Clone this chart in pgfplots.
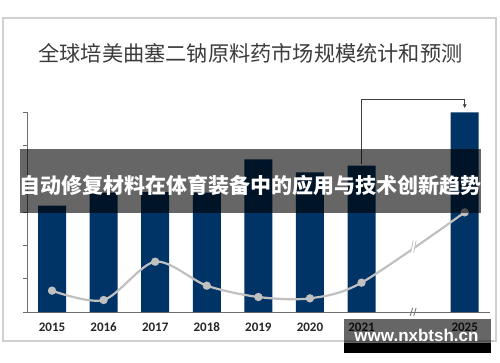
\documentclass[border=0pt]{standalone}
\usepackage{pgfplots}
\pgfplotsset{compat=1.18}
\usepackage{fontspec}
\usetikzlibrary{arrows.meta}
\newfontfamily\cjk{Noto Sans CJK SC}
\newfontfamily\carlito{Carlito}
\newfontfamily\libsans{Liberation Sans}
\definecolor{barblue}{RGB}{0,51,102}
\definecolor{linegray}{RGB}{192,192,192}
\definecolor{axgray}{RGB}{110,110,110}
\definecolor{framegray}{RGB}{208,208,208}
\definecolor{titlegray}{RGB}{60,60,60}
\begin{document}
\begin{tikzpicture}[x=1pt,y=1pt]
\path[use as bounding box] (0,0) rectangle (500,362);
\draw[framegray, line width=1.5pt] (3,21) rectangle (496,344);
\node[font=\cjk\fontsize{21.2}{22}\selectfont, text=titlegray] at (250.5,309) {全球培美曲塞二钠原料药市场规模统计和预测};
\begin{axis}[
  at={(27pt,50pt)}, anchor=south west,
  width=463pt, height=200pt, scale only axis,
  xmin=-0.485, xmax=8.49, ymin=0, ymax=6,
  axis x line=bottom, axis y line=left,
  axis line style={-, axgray, line width=0.8pt},
  xtick={0,1,2,3,4,5,6,8},
  xticklabels={2015,2016,2017,2018,2019,2020,2021,2025},
  xtick style={draw=none},
  ytick={0,1,2,3,4,5,6},
  yticklabels={},
  ytick style={axgray, line width=0.8pt},
  tick align=outside,
  major tick length=4pt,
  xticklabel style={font=\carlito\bfseries\fontsize{13}{13}\selectfont, text=black!85, yshift=-3pt},
  clip=false,
]
\addplot[ybar, bar width=28pt, fill=barblue, draw=none] coordinates {
  (0,3.19) (1,3.58) (2,3.60) (3,3.58) (4,4.58) (5,4.19) (6,4.39) (8,5.99)};
\addplot[smooth, color=linegray, line width=2.2pt, mark=*, mark size=3pt, mark options={fill=linegray, draw=linegray}] coordinates {
  (0,0.64) (1,0.36) (2,1.51) (3,0.79) (4,0.45) (5,0.41) (6,0.88) (8,2.99)};
\draw[black!75, line width=0.7pt, -{Latex[length=4pt,width=4pt]}] (axis cs:6,4.45) -- (axis cs:6,6.38) -- (axis cs:8,6.38) -- (axis cs:8,6.11);
\begin{scope}[shift={(axis cs:7,1.96)}]
  \fill[white] (-2.5pt,-6pt) -- (0.5pt,6pt) -- (3.5pt,6pt) -- (0.5pt,-6pt) -- cycle;
  \draw[linegray, line width=0.8pt] (-2.5pt,-6pt) -- (0pt,6pt);
  \draw[linegray, line width=0.8pt] (0.5pt,-6pt) -- (3pt,6pt);
\end{scope}
\begin{scope}[shift={(axis cs:7,0)}]
  \draw[axgray, line width=0.8pt] (-3pt,-4pt) -- (-0.5pt,4pt);
  \draw[axgray, line width=0.8pt] (0.5pt,-4pt) -- (3pt,4pt);
\end{scope}
\end{axis}
\fill[black, opacity=0.6] (20,149.3) rectangle (481,213);
\node[font=\cjk\bfseries\fontsize{21}{22}\selectfont, text=white] at (250.5,177) {自动修复材料在体育装备中的应用与技术创新趋势};
\fill[black, opacity=0.6] (344,19) rectangle (491,43);
\fill[black] (344,9.3) rectangle (491,19);
\node[font=\libsans\bfseries\fontsize{17}{17}\selectfont, text=white, anchor=base, inner sep=0pt] at (416.5,20.3) {www.nxbtsh.cn};
\end{tikzpicture}
\end{document}
